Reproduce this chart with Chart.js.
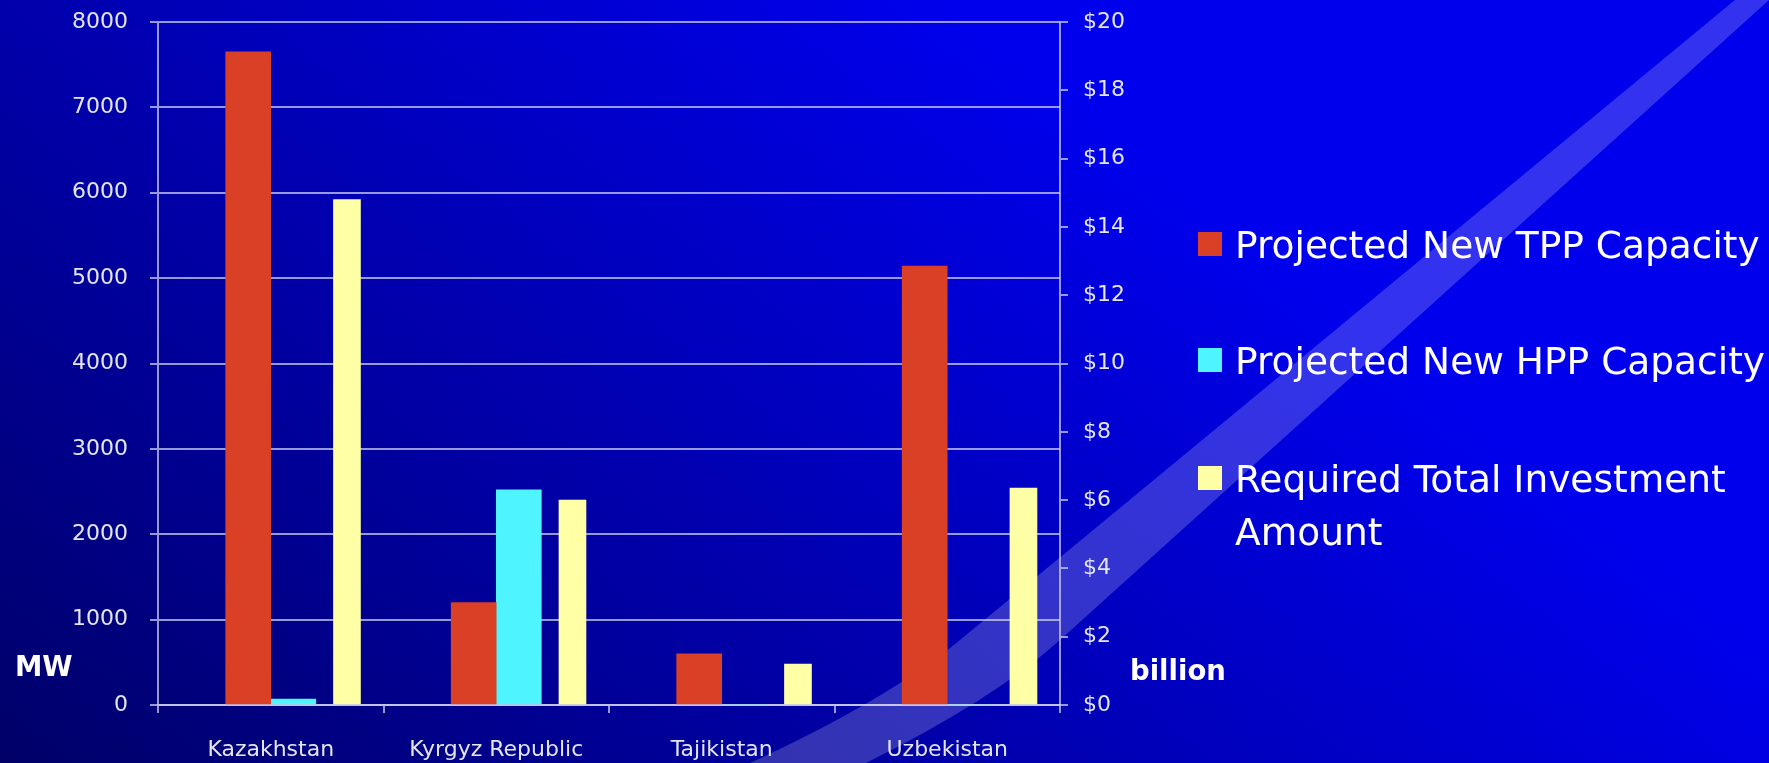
<!DOCTYPE html>
<html>
<head>
<meta charset="utf-8">
<title>Projected capacity and investment</title>
<script src="https://cdn.jsdelivr.net/npm/chart.js@4.4.1/dist/chart.umd.min.js"></script>
<style>
    html, body { margin: 0; padding: 0; background: #000080; }
    #wrap { width: 1769px; height: 763px; position: relative; }
</style>
</head>
<body>
<div id="wrap"><canvas id="graphique-capacite"></canvas></div>
<script>
const countries = ["Kazakhstan", "Kyrgyz Republic", "Tajikistan", "Uzbekistan"];
const tppCapacity = [7650, 1200, 600, 5140];
const hppCapacity = [70, 2520, 0, 0];
const investment = [14.8, 6.0, 1.2, 6.35];
const seriesNames = ["Projected New TPP Capacity", "Projected New HPP Capacity", ["Required Total Investment", "Amount"]];
const seriesColors = ["#da4026", "#4ef4ff", "#ffffa6"];
const leftAxisName = "MW";
const rightAxisName = "billion";

// where each series sits inside its category (fraction of a category) and its width in px
const barShift = [-0.1, 0.1, 0.338];
const barWidth = [45, 45, 27];

const gridColor = "rgba(210, 210, 240, 0.72)";
const tickColor = "#e4e4f2";
const tickFont = { family: "DejaVu Sans", size: 22 };

const slideBackground = {
    id: "slideBackground",
    beforeDraw(chart) {
        const ctx = chart.ctx;
        const w = chart.width, h = chart.height;
        ctx.save();
        const grad = ctx.createLinearGradient(0, h, 721, -164);
        grad.addColorStop(0, "#000068");
        grad.addColorStop(1, "#0000ec");
        ctx.fillStyle = grad;
        ctx.fillRect(0, 0, w, h);

        // light swoosh of the slide
        ctx.beginPath();
        ctx.moveTo(750, h);
        ctx.quadraticCurveTo(887, 700, 960, 640);
        ctx.lineTo(1735, 0);
        ctx.lineTo(1769, 0);
        ctx.lineTo(1060, 640);
        ctx.quadraticCurveTo(993, 700, 866, h);
        ctx.closePath();
        ctx.fillStyle = "rgba(255, 255, 255, 0.2)";
        ctx.fill();
        ctx.restore();
    }
};

const sideLegend = {
    id: "sideLegend",
    afterDraw(chart) {
        const ctx = chart.ctx;
        const area = chart.chartArea;
        const boxX = area.right + 138;
        const textX = area.right + 175;
        const baselines = [258, 374, 492];
        ctx.save();
        ctx.font = "37.5px 'DejaVu Sans'";
        ctx.textBaseline = "alphabetic";
        for (let i = 0; i < seriesNames.length; i++) {
            ctx.fillStyle = seriesColors[i];
            ctx.fillRect(boxX, baselines[i] - 26, 24, 24);
            ctx.fillStyle = "#ffffff";
            const lines = Array.isArray(seriesNames[i]) ? seriesNames[i] : [seriesNames[i]];
            lines.forEach((line, j) => ctx.fillText(line, textX, baselines[i] + j * 53));
        }

        ctx.font = "bold 27.5px 'DejaVu Sans'";
        ctx.fillText(leftAxisName, 15, 676);
        ctx.fillText(rightAxisName, area.right + 70, 680);
        ctx.restore();
    }
};

// one hidden linear axis per series, shifted so the bars land where the slide has them
function seriesAxis(shift) {
    return {
        type: "linear",
        display: false,
        offset: false,
        min: -0.5 - shift,
        max: countries.length - 0.5 - shift,
        grid: { display: false },
        afterBuildTicks: (s) => { s.ticks = s.ticks.filter(t => Number.isInteger(t.value)); },
    };
}

const values = [tppCapacity, hppCapacity, investment];
const datasets = values.map((serie, k) => ({
    label: Array.isArray(seriesNames[k]) ? seriesNames[k].join(" ") : seriesNames[k],
    data: serie.map((v, i) => ({ x: i, y: v })),
    backgroundColor: seriesColors[k],
    grouped: false,
    barThickness: barWidth[k],
    maxBarThickness: barWidth[k],
    xAxisID: "xs" + k,
    yAxisID: k < 2 ? "y" : "y2",
}));

const config = {
    type: "bar",
    data: { labels: countries, datasets: datasets },
    plugins: [slideBackground, sideLegend],
    options: {
        responsive: true,
        maintainAspectRatio: false,
        animation: false,
        layout: { padding: { left: 0, right: 609, top: 22, bottom: 0 } },
        plugins: {
            legend: { display: false },
            tooltip: { enabled: false },
        },
        scales: {
            x: {
                type: "category",
                offset: true,
                grid: { offset: true, drawOnChartArea: false, color: gridColor, lineWidth: 2, tickLength: 8 },
                border: { color: gridColor, width: 2 },
                ticks: { color: tickColor, font: tickFont, padding: 24, maxRotation: 0 },
                afterFit: (s) => { s.height = 58; },
            },
            xs0: seriesAxis(barShift[0]),
            xs1: seriesAxis(barShift[1]),
            xs2: seriesAxis(barShift[2]),
            y: {
                position: "left",
                min: 0,
                max: 8000,
                ticks: { stepSize: 1000, color: tickColor, font: tickFont, padding: 22, callback: (v) => String(v) },
                grid: { color: gridColor, lineWidth: 2, tickLength: 8 },
                border: { color: gridColor, width: 2 },
                afterFit: (s) => { s.width = 158; s.paddingTop = 0; s.paddingBottom = 0; },
            },
            y2: {
                position: "right",
                min: 0,
                max: 20,
                ticks: { stepSize: 2, color: tickColor, font: tickFont, padding: 15, callback: (v) => "$" + v },
                grid: { drawOnChartArea: false, color: gridColor, lineWidth: 2, tickLength: 8 },
                border: { color: gridColor, width: 2 },
                afterFit: (s) => { s.width = 100; s.paddingTop = 0; s.paddingBottom = 0; },
            },
        },
    },
};

const graph = new Chart(document.querySelector("#graphique-capacite"), config);
</script>
</body>
</html>
